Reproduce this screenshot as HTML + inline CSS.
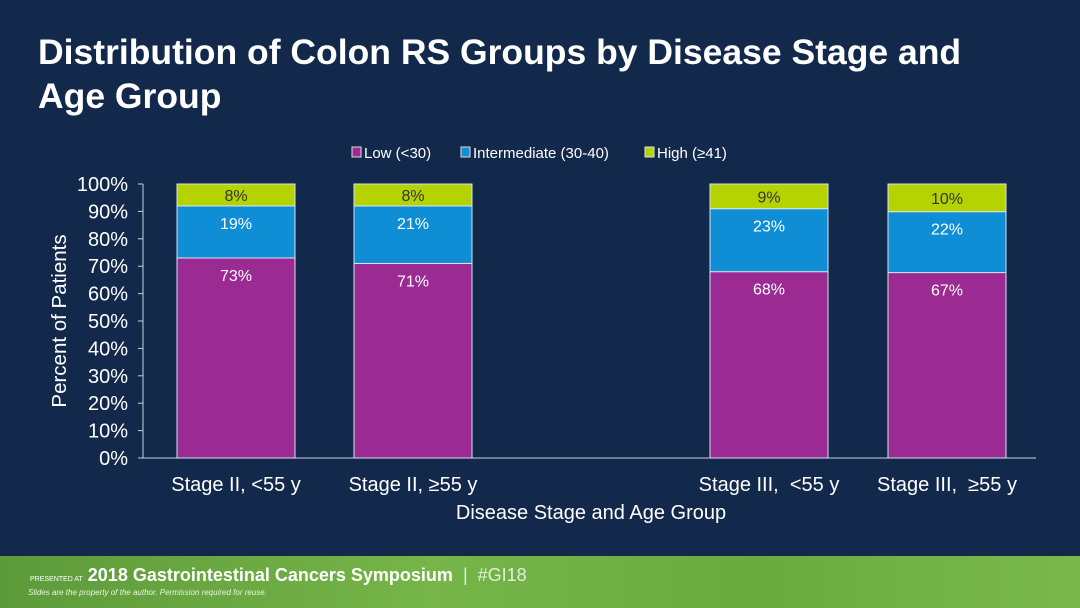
<!DOCTYPE html>
<html><head><meta charset="utf-8"><style>
body{margin:0;width:1080px;height:608px;overflow:hidden;background:#13294c;font-family:"Liberation Sans",sans-serif}
#title{position:absolute;left:38px;top:30px;color:#fff;font-size:35.5px;font-weight:bold;line-height:44px;margin:0;white-space:nowrap}
#footer{position:absolute;left:0;top:556px;width:1080px;height:52px;background:linear-gradient(90deg,#5d9a3a,#76b548 40%,#6aab40 70%,#7ab84c)}
</style></head><body>
<h1 id="title">Distribution of Colon RS Groups by Disease Stage and<br>Age Group</h1>
<svg id="chart" width="1080" height="556" style="position:absolute;left:0;top:0"></svg>
<div id="footer">
<div style="position:absolute;left:30px;top:9px;color:#fff;font-size:18px;font-weight:bold;white-space:nowrap"><span style="font-size:7px;font-weight:normal">PRESENTED AT</span> 2018 Gastrointestinal Cancers Symposium <span style="font-weight:normal;opacity:.8">&nbsp;|&nbsp; #GI18</span></div>
<div style="position:absolute;left:28px;top:32px;color:#e8f5e0;font-size:8px;font-style:italic;white-space:nowrap">Slides are the property of the author. Permission required for reuse.</div>
</div>
<script>
const categories=["Stage II, <55 y","Stage II, ≥55 y","Stage III,  <55 y","Stage III,  ≥55 y"];
const lowVals=[73,71,68,67];
const intVals=[19,21,23,22];
const highVals=[8,8,9,10];
const yTicks=[0,10,20,30,40,50,60,70,80,90,100];
const seriesNames=["Low (<30)","Intermediate (30-40)","High (≥41)"];
const colors=["#9b2a93","#0f8ed6","#b4d300"];
const svg=document.getElementById('chart');const NS="http://www.w3.org/2000/svg";
function mk(t,a,txt){const e=document.createElementNS(NS,t);for(const k in a)e.setAttribute(k,a[k]);if(txt!=null)e.textContent=txt;svg.appendChild(e);return e;}
const y0=458,yTop=184;const y=v=>y0-(v/100)*(y0-yTop);
const centers=[236,413,769,947];const bw=118;const x=i=>centers[i];
let ax=mk('line',{x1:143,y1:yTop,x2:143,y2:y0,stroke:'#c8d0dc','stroke-width':1});

let xa=mk('line',{x1:143,y1:y0,x2:1036,y2:y0,stroke:'#c8d0dc','stroke-width':1});

yTicks.forEach(t=>{const tk=mk('line',{x1:138,y1:y(t),x2:143,y2:y(t),stroke:'#c8d0dc'});

const l=mk('text',{x:128,y:y(t)+7,fill:'#fff','font-size':20,'text-anchor':'end'},t+'%');
});
const yt=mk('text',{x:66,y:321,fill:'#fff','font-size':20.5,'text-anchor':'middle',transform:'rotate(-90 66 321)'},'Percent of Patients');

const xt=mk('text',{x:591,y:519,fill:'#fff','font-size':20,'text-anchor':'middle'},'Disease Stage and Age Group');

categories.forEach((c,i)=>{
 const vals=[lowVals[i],intVals[i],highVals[i]];const sum=vals.reduce((a,b)=>a+b,0);let base=0;
 vals.forEach((v,s)=>{const top=base+v*100/sum;
  const r=mk('rect',{x:x(i)-bw/2,y:y(top),width:bw,height:y(base)-y(top),fill:colors[s],stroke:'#d6e4f0','stroke-width':1});
  
  const ly=s==2?(y(base)+y(top))/2+6:y(top)+23;
  const t=mk('text',{x:x(i),y:ly,fill:s==2?'#333':'#fff','font-size':16,'text-anchor':'middle'},v+'%');
  
  base=top;});
 const cl=mk('text',{x:x(i),y:491,fill:'#fff','font-size':20,'text-anchor':'middle',style:'white-space:pre'},c);
 
});
const legX=[352,461,645];
seriesNames.forEach((n,i)=>{const r=mk('rect',{x:legX[i],y:147,width:9,height:10,fill:colors[i],stroke:'#ddd','stroke-width':1});

const t=mk('text',{x:legX[i]+12,y:158,fill:'#fff','font-size':15},n);
});
</script>
</body></html>
